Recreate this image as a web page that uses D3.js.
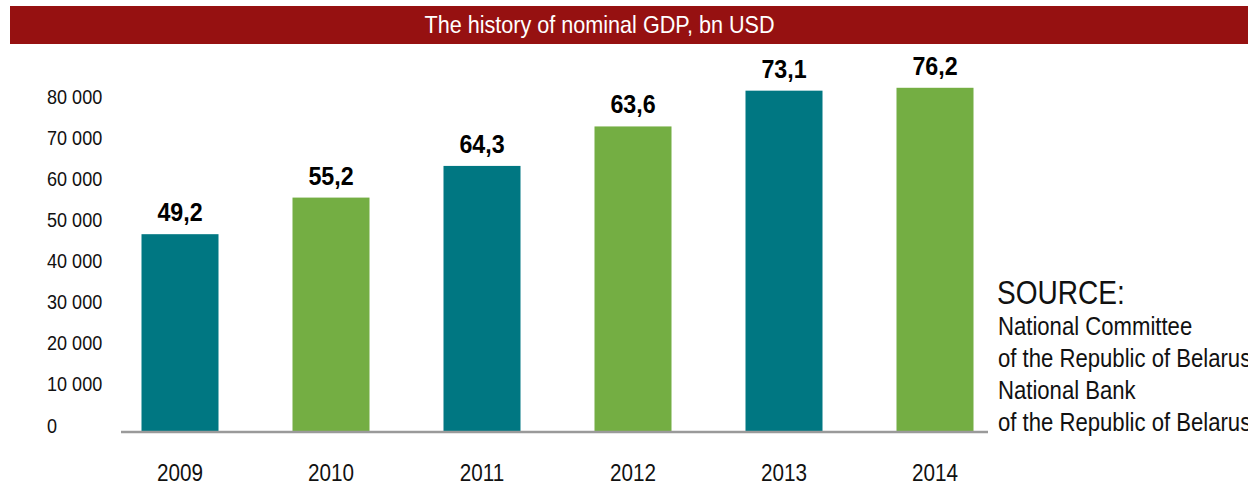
<!DOCTYPE html>
<html>
<head>
<meta charset="utf-8">
<script src="https://cdn.jsdelivr.net/npm/d3@7"></script>
<style>
  body { margin: 0; background: #fff; }
  svg { display: block; font-family: "Liberation Sans", Arial, sans-serif; }
</style>
</head>
<body>
<div id="chart"></div>
<script>
// years on the x axis
const years = ["2009", "2010", "2011", "2012", "2013", "2014"];
// bar heights
const barValues = [48100, 57000, 64700, 74300, 83000, 83700];
// labels printed over the bars (bn USD)
const gdpLabels = [49.2, 55.2, 64.3, 63.6, 73.1, 76.2];
// y axis ticks
const yTicks = [0, 10000, 20000, 30000, 40000, 50000, 60000, 70000, 80000];
const sourceLines = ["National Committee", "of the Republic of Belarus", "National Bank", "of the Republic of Belarus"];

const W = 1248, H = 485;
const teal = "#007782", green = "#74ae43";

const locale = d3.formatLocale({ decimal: ",", thousands: " ", grouping: [3], currency: ["", ""] });
const fmtTick = locale.format(",");
const fmtLabel = locale.format(".1f");

// squeeze text horizontally around its anchor point (condensed face look)
function squeeze(sel, sx) {
  sel.each(function () {
    const t = d3.select(this);
    const tx = +t.attr("x") || 0, ty = +t.attr("y") || 0;
    t.attr("x", 0).attr("y", 0)
      .attr("transform", "translate(" + tx + "," + ty + ") scale(" + sx + ",1)");
  });
}

const svg = d3.select("#chart").append("svg")
  .attr("width", W)
  .attr("height", H);

// title band
svg.append("rect")
  .attr("x", 10).attr("y", 6)
  .attr("width", W - 10).attr("height", 38)
  .attr("fill", "#961111");
svg.append("text")
  .attr("x", 599.5).attr("y", 33)
  .attr("text-anchor", "middle")
  .attr("fill", "#fff")
  .style("font-size", "24px")
  .text("The history of nominal GDP, bn USD")
  .call(squeeze, 0.9);

// scales
const baseY = 432;
const y = d3.scaleLinear().domain([0, 80000]).range([baseY, 103]);
const step = 151;
const x = d3.scaleBand()
  .domain(years)
  .range([180 - step / 2, 180 + step * 5.5])
  .paddingInner(0.49)
  .paddingOuter(0.245);

// bars
svg.selectAll("rect.bar")
  .data(years)
  .join("rect")
  .attr("class", "bar")
  .attr("x", d => x(d))
  .attr("width", x.bandwidth())
  .attr("y", (d, i) => y(barValues[i]))
  .attr("height", (d, i) => y(0) - y(barValues[i]))
  .attr("fill", (d, i) => i % 2 === 0 ? teal : green);

// value labels
svg.selectAll("text.val")
  .data(years)
  .join("text")
  .attr("class", "val")
  .attr("x", d => x(d) + x.bandwidth() / 2)
  .attr("y", (d, i) => y(barValues[i]) - 13)
  .attr("text-anchor", "middle")
  .style("font-size", "25px")
  .style("font-weight", "bold")
  .attr("fill", "#000")
  .text((d, i) => fmtLabel(gdpLabels[i]))
  .call(squeeze, 0.93);

// baseline
svg.append("line")
  .attr("x1", 121).attr("x2", 988)
  .attr("y1", baseY).attr("y2", baseY)
  .attr("stroke", "#9a9a9a")
  .attr("stroke-width", 2.5);

// y axis (labels only, left aligned)
const yAxis = svg.append("g")
  .attr("transform", "translate(47,0)")
  .call(d3.axisLeft(y).tickValues(yTicks).tickFormat(fmtTick).tickSize(0));
yAxis.select(".domain").remove();
yAxis.selectAll("text")
  .attr("x", 0)
  .attr("y", 0)
  .attr("dy", 0)
  .attr("text-anchor", "start")
  .attr("fill", "#111")
  .style("font-family", "inherit")
  .style("font-size", "21px")
  .call(squeeze, 0.86);

// x axis
const xAxis = svg.append("g")
  .attr("transform", "translate(0," + baseY + ")")
  .call(d3.axisBottom(x).tickSize(0));
xAxis.select(".domain").remove();
xAxis.selectAll("text")
  .attr("y", 49)
  .attr("dy", 0)
  .attr("fill", "#111")
  .style("font-family", "inherit")
  .style("font-size", "23.5px")
  .call(squeeze, 0.88);

// source block
svg.append("text")
  .attr("x", 997).attr("y", 304)
  .attr("fill", "#111")
  .style("font-size", "33px")
  .text("SOURCE:")
  .call(squeeze, 0.85);
svg.selectAll("text.src")
  .data(sourceLines)
  .join("text")
  .attr("class", "src")
  .attr("x", 998)
  .attr("y", (d, i) => 335 + i * 32)
  .attr("fill", "#111")
  .style("font-size", "25px")
  .text(d => d)
  .call(squeeze, 0.885);
</script>
</body>
</html>
